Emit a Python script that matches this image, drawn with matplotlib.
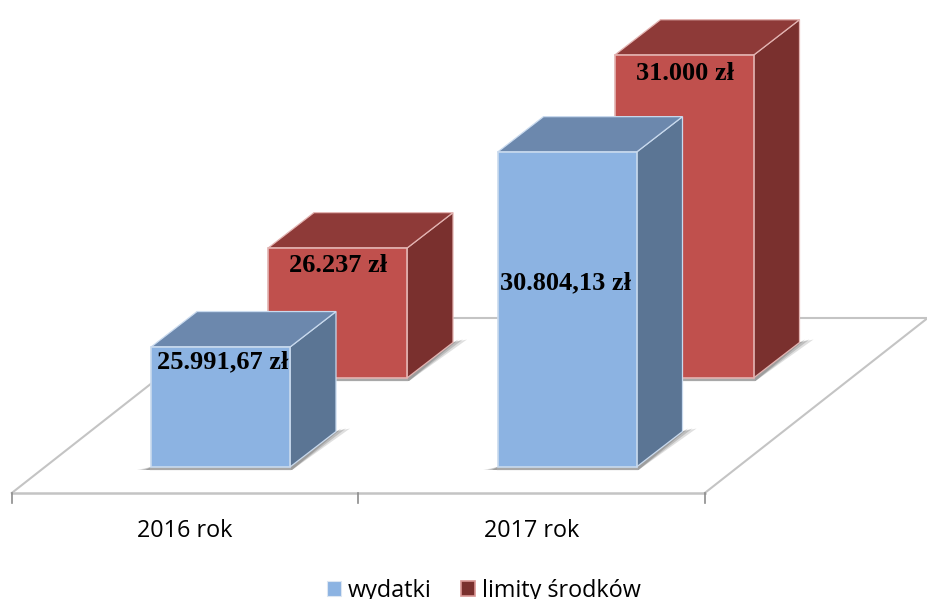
import matplotlib
matplotlib.use("Agg")
import matplotlib.pyplot as plt
from matplotlib.patches import Polygon, Patch
from matplotlib.transforms import Affine2D

# data
categories = ["2016 rok", "2017 rok"]
series_names = ["wydatki", "limity środków"]
wydatki = [25991.67, 30804.13]
limity = [26237, 31000]
wydatki_labels = ["25.991,67 zł", "30.804,13 zł"]
limity_labels = ["26.237 zł", "31.000 zł"]

# scale of the picture
W, H = 928, 599
PX_PER_UNIT = 0.0405
BASE_VALUE = 23030
BASE_PY = 467
CAT0_PX = 185
CAT_STEP = 346.5
BAR_LEFT = -34 / CAT_STEP
BAR_WIDTH = 139 / CAT_STEP
DEPTH = (46, 35.5)
ROW_STEP = (117, 89)
FLOOR_DEPTH = (223, 175)
AXIS_VALUE = BASE_VALUE - 26 / PX_PER_UNIT

BLUE = dict(front="#8CB3E2", top="#6C88AD", side="#5B7594", edge="#C9DAEE")
RED = dict(front="#C0504D", top="#8E3A38", side="#7A302E", edge="#E3B4B2")
GRID = "#C4C4C4"

fig = plt.figure(figsize=(W / 100, H / 100), dpi=100)
ax = fig.add_axes([0, 0, 1, 1])
ax.set_xlim(-CAT0_PX / CAT_STEP, (W - CAT0_PX) / CAT_STEP)
ax.set_ylim(BASE_VALUE - (H - BASE_PY) / PX_PER_UNIT, BASE_VALUE + BASE_PY / PX_PER_UNIT)
ax.axis("off")


def shifted(dx, dy):
    return ax.transData + Affine2D().translate(dx, dy)


# floor
x0, x1 = -0.5, 1.5
back = shifted(*FLOOR_DEPTH)
p0 = back.transform((x0, AXIS_VALUE))
disp_right = ax.transData.transform((x1, AXIS_VALUE))
disp_left = ax.transData.transform((x0, AXIS_VALUE))
ax.plot([disp_left[0], p0[0]], [disp_left[1], p0[1]], transform=None, color=GRID, lw=1.5, zorder=1)
p1 = (W + 3, p0[1])
ax.plot([p0[0], p1[0]], [p0[1], p1[1]], transform=None, color=GRID, lw=1.5, zorder=1)
ax.plot([disp_right[0], disp_right[0] + FLOOR_DEPTH[0] + 3],
        [disp_right[1], disp_right[1] + FLOOR_DEPTH[1] + 2.4],
        transform=None, color=GRID, lw=1.5, zorder=1)
ax.plot([x0, x1], [AXIS_VALUE, AXIS_VALUE], color=GRID, lw=1.8, zorder=1)
for t in [x0, 0.5, x1]:
    tip = ax.transData.transform((t, AXIS_VALUE))
    ax.plot([tip[0], tip[0]], [tip[1], tip[1] - 10], transform=None, color="#8C8C8C", lw=1.2, zorder=1)


def draw_bar(i, value, row, c, z):
    tr = shifted(ROW_STEP[0] * row, ROW_STEP[1] * row)
    left = i + BAR_LEFT
    right = left + BAR_WIDTH
    dx, dy = DEPTH
    a = tr.transform([(left, BASE_VALUE), (right, BASE_VALUE), (right, value), (left, value)])
    bl, br, tr_, tl = a
    # soft shadow under the bar
    for grow, alpha in [(1.0, 0.22), (0.7, 0.3), (0.4, 0.4)]:
        sh = [(bl[0] - 14 * grow, bl[1] - 3), (br[0] + 2, br[1] - 3),
              (br[0] + dx + 14 * grow, br[1] + dy + 3), (br[0] + dx, br[1] + dy), (bl[0], bl[1])]
        ax.add_patch(Polygon(sh, closed=True, transform=None, fc="#707070", ec="none", alpha=alpha, zorder=z))
    top = [tl, tr_, (tr_[0] + dx, tr_[1] + dy), (tl[0] + dx, tl[1] + dy)]
    side = [br, (br[0] + dx, br[1] + dy), (tr_[0] + dx, tr_[1] + dy), tr_]
    ax.add_patch(Polygon(side, closed=True, transform=None, fc=c["side"], ec=c["edge"], lw=0.9, zorder=z + 0.1))
    ax.add_patch(Polygon(top, closed=True, transform=None, fc=c["top"], ec=c["edge"], lw=0.9, zorder=z + 0.1))
    ax.add_patch(Polygon(a, closed=True, transform=None, fc=c["front"], ec=c["edge"], lw=1.2, zorder=z + 0.2))
    ax.plot([bl[0], br[0]], [bl[1] - 1.5, br[1] - 1.5], transform=None, color="#A8A8A8", lw=1.6, zorder=z + 0.15)
    return (tl + tr_) / 2


label_kw = dict(transform=None, ha="center", va="center", family="Liberation Serif",
                weight="bold", fontsize=19, color="black", zorder=10)
label_drop = [[15, 131], [17, 18]]
label_shift = [[2.5, -1], [1, 1.5]]

for row, (vals, labels, c) in reversed(list(enumerate([(wydatki, wydatki_labels, BLUE), (limity, limity_labels, RED)]))):
    for i, (v, lab) in enumerate(zip(vals, labels)):
        # back row first, so 2017 blue covers 2017 red
        mid = draw_bar(i, v, row, c, z=3 + (1 - row) * 2 + i * 0.5)
        ax.text(mid[0] + label_shift[row][i], mid[1] - label_drop[row][i], lab, **label_kw)

for i, name in enumerate(categories):
    ax.text(i, BASE_VALUE - 64 / PX_PER_UNIT, name, ha="center", va="center",
            family="Open Sans", fontsize=16.8, color="black")

handles = [Patch(fc=BLUE["front"], ec="#DCE6F2", lw=0.8), Patch(fc=RED["side"], ec="#D99694", lw=1.2)]
fig.legend(handles, series_names, ncol=2, loc="center", bbox_to_anchor=(484 / W, 1 - 591 / H),
           frameon=False, prop=dict(family="Open Sans", size=16.8), handlelength=0.6, handleheight=0.6,
           handletextpad=0.3, columnspacing=1.25, borderpad=0)

fig.savefig("out.png", dpi=100)
